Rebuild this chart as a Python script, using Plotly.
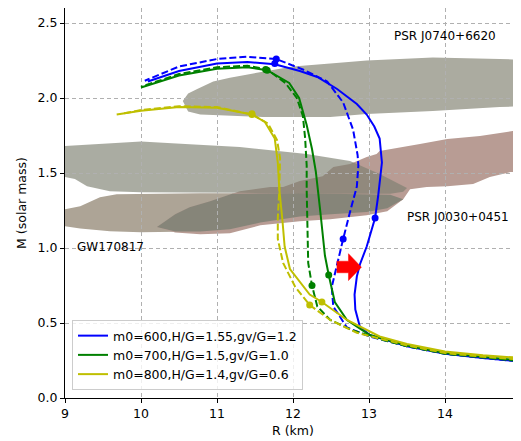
import plotly.graph_objects as go

# ---------------- M-R curves (R in km, M in solar masses) ----------------
r600_solid = [15.2, 15.0, 14.5, 14.0, 13.5, 13.01, 12.88, 12.82, 12.81, 12.84, 12.88, 12.97, 13.08,
              13.12, 13.17, 13.14, 13.07, 12.97, 12.84, 12.58, 12.32, 12.09, 11.76, 11.4, 11.0, 10.5, 10.09]
m600_solid = [0.237, 0.243, 0.267, 0.295, 0.345, 0.42, 0.475, 0.59, 0.69, 0.81, 0.89, 1.01, 1.20,
              1.345, 1.57, 1.73, 1.81, 1.89, 1.96, 2.06, 2.14, 2.18, 2.225, 2.24, 2.23, 2.18, 2.11]
r600_dash = [15.2, 15.0, 14.5, 14.0, 13.5, 13.01, 12.71, 12.53, 12.51, 12.58, 12.66, 12.75, 12.84,
             12.86, 12.85, 12.79, 12.66, 12.45, 12.13, 11.78, 11.4, 11.0, 10.5, 10.05]
m600_dash = [0.237, 0.243, 0.267, 0.295, 0.345, 0.41, 0.47, 0.61, 0.74, 0.90, 1.06, 1.24, 1.41,
             1.55, 1.62, 1.79, 1.97, 2.11, 2.19, 2.26, 2.275, 2.26, 2.21, 2.115]

r700_solid = [15.2, 15.0, 14.5, 14.0, 13.5, 13.01, 12.71, 12.55, 12.47, 12.42, 12.36, 12.33, 12.30,
              12.25, 12.18, 12.08, 11.95, 11.66, 11.4, 11.0, 10.5, 10.0]
m700_solid = [0.245, 0.25, 0.275, 0.30, 0.35, 0.42, 0.52, 0.64, 0.82, 0.95, 1.24, 1.39, 1.51,
              1.66, 1.82, 2.0, 2.10, 2.185, 2.205, 2.195, 2.15, 2.07]
r700_dash = [15.2, 15.0, 14.5, 14.0, 13.5, 13.2, 12.79, 12.49, 12.32, 12.25, 12.20, 12.19, 12.18,
             12.18, 12.16, 12.13, 12.05, 11.9, 11.66, 11.4, 11.0, 10.5, 10.0]
m700_dash = [0.24, 0.245, 0.27, 0.295, 0.345, 0.385, 0.45, 0.52, 0.61, 0.75, 0.90, 1.1, 1.39,
             1.55, 1.73, 1.88, 2.0, 2.10, 2.19, 2.215, 2.205, 2.16, 2.075]

r800_solid = [15.2, 15.0, 14.5, 14.0, 13.5, 13.14, 12.71, 12.38, 12.22, 11.96, 11.89, 11.86, 11.84,
              11.82, 11.80, 11.76, 11.63, 11.46, 11.0, 10.5, 10.0, 9.68]
m800_solid = [0.26, 0.266, 0.285, 0.31, 0.36, 0.41, 0.52, 0.64, 0.69, 0.86, 1.01, 1.19, 1.30,
              1.39, 1.57, 1.73, 1.84, 1.89, 1.935, 1.94, 1.915, 1.89]
r800_dash = [15.2, 15.0, 14.5, 14.0, 13.5, 13.2, 12.84, 12.49, 12.22, 12.03, 11.87, 11.80, 11.80,
             11.82, 11.83, 11.83, 11.79, 11.67, 11.46, 11.0, 10.5, 10.0, 9.75]
m800_dash = [0.25, 0.255, 0.275, 0.30, 0.35, 0.39, 0.435, 0.52, 0.62, 0.74, 0.90, 1.06, 1.20,
             1.39, 1.50, 1.60, 1.72, 1.83, 1.89, 1.94, 1.945, 1.92, 1.895]

# marked points (solid, dashed) for each model
r600_dots_solid, m600_dots_solid = [13.08, 11.76], [1.20, 2.23]
r600_dots_dash, m600_dots_dash = [12.66, 11.78], [1.06, 2.26]
r700_dots_solid, m700_dots_solid = [12.47, 11.66], [0.82, 2.185]
r700_dots_dash, m700_dots_dash = [12.25, 11.64], [0.75, 2.19]
r800_dots_solid, m800_dots_solid = [12.38, 11.46], [0.64, 1.89]
r800_dots_dash, m800_dots_dash = [12.22, 11.46], [0.62, 1.895]

legend_labels = ["m0=600,H/G=1.55,gv/G=1.2", "m0=700,H/G=1.5,gv/G=1.0", "m0=800,H/G=1.4,gv/G=0.6"]

# ---------------- observational regions (R, M) ----------------
j0740_r = [10.55, 10.62, 10.74, 10.95, 11.17, 11.6, 12.0, 12.49, 12.97, 13.84, 14.72, 15.3,
           15.3, 14.72, 13.84, 12.97, 12.49, 11.6, 10.95, 10.78, 10.62]
j0740_m = [1.98, 2.03, 2.06, 2.11, 2.135, 2.175, 2.21, 2.23, 2.25, 2.27, 2.26, 2.25,
           1.95, 1.94, 1.914, 1.894, 1.874, 1.874, 1.887, 1.89, 1.91]

gw_m1_r = [8.8, 9.0, 10.0, 10.7, 11.3, 12.18, 12.75, 13.14, 13.5,
           13.45, 13.28, 12.62, 11.3, 10.0, 9.59, 9.29, 9.13, 9.0, 8.8]
gw_m1_m = [1.68, 1.68, 1.71, 1.69, 1.673, 1.627, 1.58, 1.493, 1.40,
           1.375, 1.362, 1.362, 1.368, 1.372, 1.379, 1.412, 1.46, 1.473, 1.48]

gw_m2_r = [8.8, 9.0, 9.2, 9.46, 9.68, 10.78, 12.09, 13.28, 13.45,
           13.24, 12.97, 12.5, 12.09, 11.57, 11.17, 10.7, 10.0, 9.59, 9.2, 9.0, 8.8]
gw_m2_m = [1.24, 1.258, 1.278, 1.339, 1.359, 1.365, 1.365, 1.355, 1.325,
           1.265, 1.24, 1.225, 1.21, 1.17, 1.125, 1.11, 1.105, 1.111, 1.13, 1.145, 1.15]

j0030_r = [10.21, 10.45, 10.64, 10.91, 11.3, 11.7, 11.87, 12.09, 12.39, 12.53, 12.75, 12.97, 13.1,
           13.14, 13.67, 14.03, 14.46, 14.89, 15.3,
           15.3, 14.86, 14.59, 14.37, 14.03, 13.76, 13.54, 13.45, 13.24, 12.97, 12.49, 12.09,
           11.57, 11.17, 10.78, 10.45]
j0030_m = [1.14, 1.225, 1.272, 1.312, 1.379, 1.406, 1.406, 1.446, 1.479, 1.54, 1.56, 1.606, 1.627,
           1.647, 1.693, 1.727, 1.747, 1.78, 1.795,
           1.51, 1.506, 1.473, 1.426, 1.412, 1.406, 1.392, 1.325, 1.245, 1.218, 1.191, 1.178,
           1.151, 1.098, 1.091, 1.104]

# overlap of GW170817 (lighter star) with PSR J0030+0451
overlap_r = [10.21, 10.45, 10.64, 10.91, 11.2, 12.09, 13.28, 13.45, 13.24, 12.97, 12.5, 12.09,
             11.57, 11.17, 10.78, 10.45]
overlap_m = [1.14, 1.225, 1.272, 1.312, 1.362, 1.365, 1.355, 1.325, 1.265, 1.24, 1.225, 1.21,
             1.17, 1.125, 1.11, 1.11]

# red arrow
arrow_r = [12.575, 12.73, 12.73, 12.90, 12.73, 12.73, 12.575]
arrow_m = [0.912, 0.912, 0.962, 0.872, 0.783, 0.835, 0.835]

# text labels
label_texts = ["PSR J0740+6620", "PSR J0030+0451", "GW170817"]
label_r = [13.30, 13.48, 9.13]
label_m = [2.415, 1.21, 1.01]

FONT = "DejaVu Sans"
fig = go.Figure()


def poly_path(xs, ys):
    pts = " L ".join(f"{x},{y}" for x, y in zip(xs, ys))
    return f"M {pts} Z"


regions = [
    (gw_m2_r, gw_m2_m, "rgb(173,164,150)"),
    (j0030_r, j0030_m, "rgb(184,156,148)"),
    (overlap_r, overlap_m, "rgb(134,133,121)"),
    (gw_m1_r, gw_m1_m, "rgba(124,128,112,0.65)"),
    (j0740_r, j0740_m, "rgb(171,171,160)"),
]
for xs, ys, col in regions:
    fig.add_shape(type="path", path=poly_path(xs, ys), xref="x", yref="y",
                  fillcolor=col, line=dict(width=0), layer="below")

BLUE, GREEN, YELLOW = "rgb(0,0,255)", "rgb(0,128,0)", "rgb(191,191,0)"
DASH = "7px,3px"

models = [
    (r600_solid, m600_solid, r600_dash, m600_dash, r600_dots_solid, m600_dots_solid,
     r600_dots_dash, m600_dots_dash, BLUE, legend_labels[0]),
    (r700_solid, m700_solid, r700_dash, m700_dash, r700_dots_solid, m700_dots_solid,
     r700_dots_dash, m700_dots_dash, GREEN, legend_labels[1]),
    (r800_solid, m800_solid, r800_dash, m800_dash, r800_dots_solid, m800_dots_solid,
     r800_dots_dash, m800_dots_dash, YELLOW, legend_labels[2]),
]
for rs, ms, rd, md, rds, mds, rdd, mdd, col, name in models:
    fig.add_trace(go.Scatter(x=rs, y=ms, mode="lines", line=dict(color=col, width=2),
                             name=name, showlegend=True))
    fig.add_trace(go.Scatter(x=rd, y=md, mode="lines", line=dict(color=col, width=2, dash=DASH),
                             showlegend=False))
    fig.add_trace(go.Scatter(x=rds + rdd, y=mds + mdd, mode="markers",
                             marker=dict(color=col, size=7), showlegend=False))

fig.add_trace(go.Scatter(x=arrow_r, y=arrow_m, mode="lines", fill="toself", fillcolor="red",
                         line=dict(color="red", width=0.5), showlegend=False))

for t, x, y in zip(label_texts, label_r, label_m):
    fig.add_annotation(x=x, y=y, text=t, showarrow=False, xanchor="left", yanchor="middle",
                       font=dict(family=FONT, size=12, color="black"))

axis_common = dict(showline=True, linecolor="black", linewidth=1.2, mirror=True,
                   ticks="outside", ticklen=4, tickcolor="black", tickwidth=1,
                   showgrid=True, gridcolor="rgb(176,176,176)", griddash="4px,3px", gridwidth=1,
                   zeroline=False, automargin=False,
                   tickfont=dict(family=FONT, size=12.5, color="black"))

fig.update_xaxes(range=[9, 15], dtick=1, ticklabeloverflow="allow",
                 title=dict(text="R (km)", font=dict(family=FONT, size=12.5), standoff=6),
                 **axis_common)
fig.update_yaxes(range=[0, 2.6], dtick=0.5, tickformat=".1f",
                 title=dict(text="M (solar mass)", font=dict(family=FONT, size=12.5), standoff=8),
                 **axis_common)

# the page body adds an 8px offset, so the figure is 8px smaller and margins are reduced
fig.update_layout(
    width=513, height=433,
    margin=dict(l=57, r=0, t=0, b=43),
    plot_bgcolor="white", paper_bgcolor="white",
    font=dict(family=FONT, size=12.5, color="black"),
    legend=dict(x=0.0154, y=0.0205, xanchor="left", yanchor="bottom",
                bgcolor="rgba(255,255,255,0.8)", bordercolor="rgb(204,204,204)", borderwidth=1,
                font=dict(family=FONT, size=12.5), itemwidth=30, tracegroupgap=0),
)

fig.write_html("out.html")
